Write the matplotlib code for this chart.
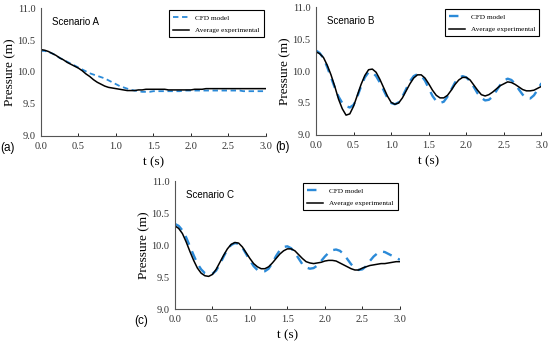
import numpy as np
import matplotlib.pyplot as plt

t = np.round(np.arange(0, 3.0001, 0.05), 2)

# Scenario A
cfd_a = [10.33, 10.33, 10.31, 10.29, 10.26, 10.22, 10.19, 10.16, 10.13, 10.10,
         10.07, 10.04, 10.01, 9.98, 9.96, 9.94, 9.92, 9.90, 9.87, 9.84,
         9.81, 9.78, 9.76, 9.74, 9.72, 9.71, 9.70, 9.69, 9.69, 9.69,
         9.70, 9.70, 9.70, 9.70, 9.70, 9.70, 9.70, 9.70, 9.71, 9.71,
         9.71, 9.71, 9.71, 9.71, 9.71, 9.71, 9.71, 9.71, 9.71, 9.71,
         9.71, 9.71, 9.71, 9.71, 9.70, 9.70, 9.70, 9.70, 9.70, 9.70, 9.70]
exp_a = [10.35, 10.34, 10.32, 10.29, 10.26, 10.22, 10.19, 10.15, 10.12, 10.09,
         10.06, 10.02, 9.97, 9.93, 9.88, 9.84, 9.81, 9.78, 9.76, 9.75,
         9.74, 9.73, 9.72, 9.71, 9.71, 9.71, 9.72, 9.72, 9.73, 9.73,
         9.73, 9.73, 9.73, 9.73, 9.72, 9.72, 9.72, 9.72, 9.72, 9.72,
         9.72, 9.73, 9.73, 9.73, 9.74, 9.74, 9.74, 9.74, 9.74, 9.74,
         9.74, 9.74, 9.74, 9.74, 9.74, 9.74, 9.74, 9.74, 9.74, 9.74, 9.74]

# Scenario B
cfd_b = [10.32, 10.28, 10.20, 10.06, 9.90, 9.74, 9.60, 9.50, 9.45, 9.43,
         9.47, 9.60, 9.76, 9.90, 9.98, 9.98, 9.92, 9.82, 9.70, 9.58,
         9.50, 9.48, 9.51, 9.60, 9.72, 9.84, 9.92, 9.95, 9.93, 9.85,
         9.73, 9.61, 9.53, 9.50, 9.52, 9.60, 9.71, 9.82, 9.89, 9.92,
         9.90, 9.84, 9.75, 9.65, 9.58, 9.54, 9.55, 9.60, 9.69, 9.78,
         9.85, 9.88, 9.86, 9.80, 9.71, 9.63, 9.58, 9.57, 9.62, 9.71, 9.81]
exp_b = [10.30, 10.27, 10.21, 10.09, 9.94, 9.76, 9.56, 9.41, 9.31, 9.33,
         9.45, 9.62, 9.79, 9.93, 10.02, 10.03, 9.98, 9.87, 9.74, 9.61,
         9.51, 9.48, 9.50, 9.58, 9.69, 9.80, 9.89, 9.94, 9.94, 9.89,
         9.80, 9.70, 9.62, 9.58, 9.58, 9.62, 9.70, 9.79, 9.86, 9.90,
         9.90, 9.86, 9.78, 9.70, 9.63, 9.61, 9.63, 9.67, 9.72, 9.77,
         9.80, 9.83, 9.82, 9.79, 9.75, 9.71, 9.69, 9.69, 9.70, 9.73, 9.76]

# Scenario C
cfd_c = [10.33, 10.30, 10.23, 10.12, 9.98, 9.84, 9.71, 9.62, 9.56, 9.54,
         9.55, 9.60, 9.70, 9.82, 9.93, 10.00, 10.03, 10.02, 9.96, 9.86,
         9.76, 9.67, 9.61, 9.59, 9.59, 9.63, 9.72, 9.83, 9.92, 9.97,
         9.98, 9.95, 9.88, 9.79, 9.70, 9.65, 9.63, 9.64, 9.68, 9.75,
         9.82, 9.88, 9.92, 9.93, 9.91, 9.86, 9.78, 9.70, 9.64, 9.61,
         9.62, 9.67, 9.75, 9.82, 9.87, 9.90, 9.89, 9.86, 9.83, 9.80, 9.77]
exp_c = [10.30, 10.26, 10.18, 10.05, 9.90, 9.76, 9.64, 9.56, 9.52, 9.51,
         9.54, 9.62, 9.73, 9.84, 9.94, 10.01, 10.04, 10.03, 9.97, 9.88,
         9.79, 9.71, 9.66, 9.63, 9.63, 9.66, 9.72, 9.79, 9.86, 9.91,
         9.94, 9.94, 9.91, 9.85, 9.79, 9.74, 9.72, 9.71, 9.72, 9.73,
         9.75, 9.76, 9.76, 9.75, 9.72, 9.69, 9.66, 9.63, 9.61, 9.61,
         9.64, 9.66, 9.68, 9.69, 9.70, 9.71, 9.71, 9.72, 9.73, 9.74, 9.74]

panels = [
    ("Scenario A", "(a)", cfd_a, exp_a, [0.0745, 0.6047, 0.409, 0.372], (3, 2), 1.3),
    ("Scenario B", "(b)", cfd_b, exp_b, [0.5745, 0.6076, 0.410, 0.372], (4, 3), 1.7),
    ("Scenario C", "(c)", cfd_c, exp_c, [0.318, 0.1017, 0.409, 0.372], (4, 3), 1.7),
]

blue = '#2b8ad8'
serif = 'Liberation Serif'

fig = plt.figure(figsize=(5.5, 3.44), dpi=100)

for title, tag, cfd, exp, rect, dash, lw in panels:
    ax = fig.add_axes(rect)
    ax.plot(t, cfd, color=blue, lw=lw, dashes=dash, label='CFD model')
    ax.plot(t, exp, color='black', lw=1.1, label='Average experimental')
    ax.set_xlim(0, 3)
    ax.set_ylim(9, 11)
    ax.set_xticks(np.arange(0, 3.01, 0.5))
    ax.set_yticks(np.arange(9, 11.01, 0.5))
    ax.set_xticklabels([f"{v:.1f}" for v in np.arange(0, 3.01, 0.5)], family=serif)
    ax.set_yticklabels([f"{v:.1f}" for v in np.arange(9, 11.01, 0.5)], family=serif)
    ax.tick_params(axis='x', direction='in', length=2.5, width=0.6, labelsize=7.5,
                   pad=4, labelcolor='#333333')
    ax.tick_params(axis='y', length=0, labelsize=7.5, pad=4, labelcolor='#333333')
    for s in ['top', 'right']:
        ax.spines[s].set_visible(False)
    for s in ['left', 'bottom']:
        ax.spines[s].set_color('#555555')
        ax.spines[s].set_linewidth(0.8)
    ax.set_xlabel('t (s)', family=serif, fontsize=9.5, labelpad=4)
    ax.set_ylabel('Pressure (m)', family=serif, fontsize=9.5, labelpad=1)
    ax.text(0.05, 0.87, title, transform=ax.transAxes, fontsize=7,
            family='Liberation Sans')
    ax.text(-0.18, -0.09, tag, transform=ax.transAxes, fontsize=8.5,
            family='Liberation Sans', va='center')
    leg = ax.legend(loc='upper right', bbox_to_anchor=(1.0, 1.0),
                    prop={'family': serif, 'size': 5.2}, handlelength=2.2,
                    fancybox=False, framealpha=1, borderaxespad=0.3,
                    labelspacing=0.9, borderpad=0.6)
    leg.get_frame().set_edgecolor('black')
    leg.get_frame().set_linewidth(0.8)

fig.savefig('out.png', dpi=100)
